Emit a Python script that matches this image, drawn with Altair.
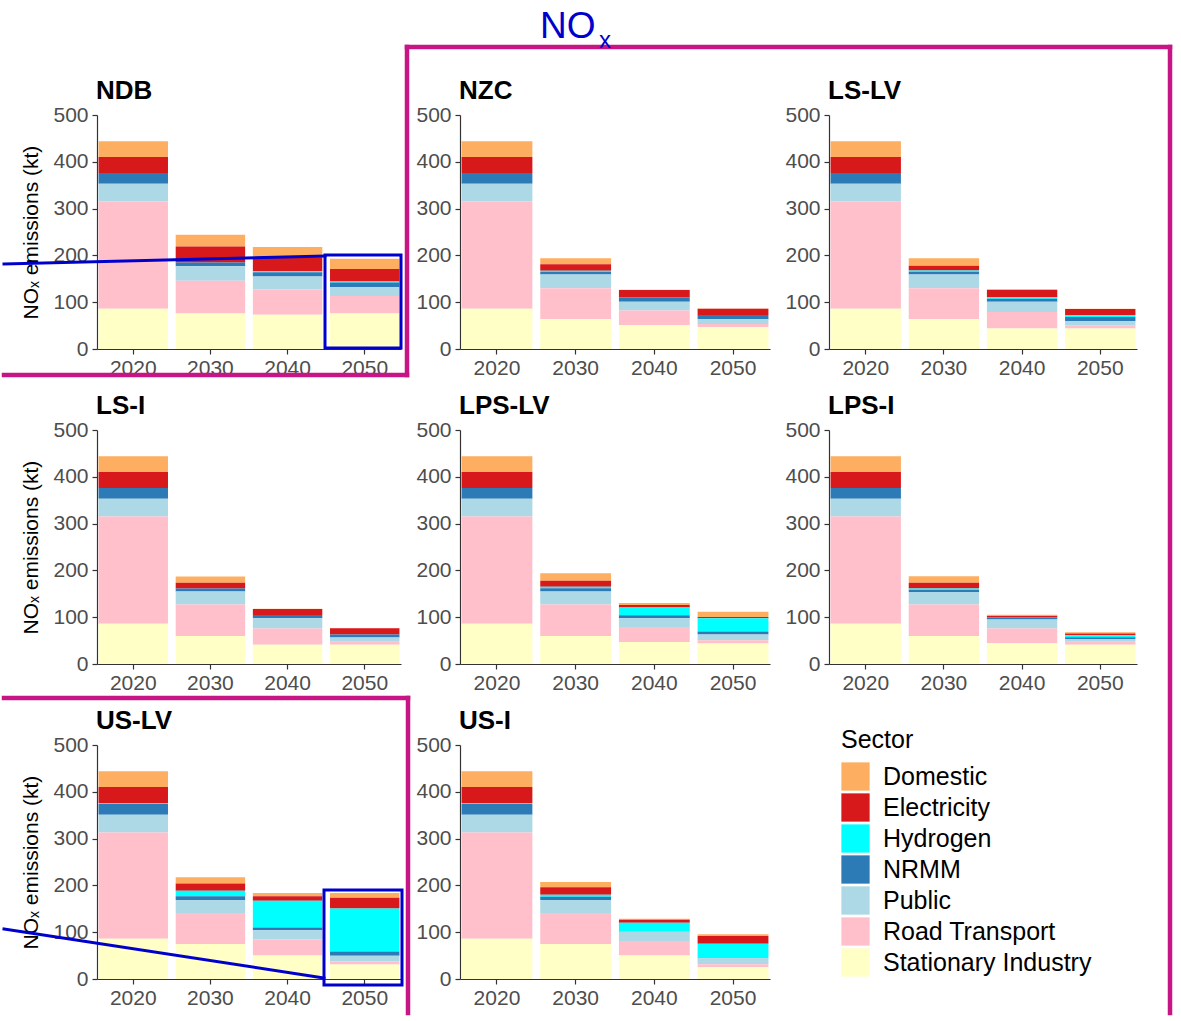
import altair as alt
import pandas as pd

# ---------------- data ----------------
years = ["2020", "2030", "2040", "2050"]
sectors = ["Domestic", "Electricity", "Hydrogen", "NRMM", "Public",
           "Road Transport", "Stationary Industry"]
sector_colors = ["#FDAE61", "#D7191C", "#00FFFF", "#2C7BB6", "#ADD8E6",
                 "#FFC0CB", "#FFFFC6"]
scenarios = ["NDB", "NZC", "LS-LV", "LS-I", "LPS-LV", "LPS-I", "US-LV", "US-I"]

# NOx emissions (kt) by sector, one list per sector in year order
NDB = {"Domestic": [34, 25, 22, 22], "Electricity": [34, 34, 30, 27],
       "Hydrogen": [0, 0, 2, 2], "NRMM": [23, 8, 9, 10],
       "Public": [38, 31, 28, 19], "Road Transport": [229, 70, 54, 37],
       "Stationary Industry": [86, 76, 73, 76]}
NZC = {"Domestic": [34, 13, 0.5, 0.5], "Electricity": [34, 14, 16, 13.5],
       "Hydrogen": [0, 2, 0, 0], "NRMM": [23, 6, 9, 9],
       "Public": [38, 29, 19, 10], "Road Transport": [229, 66, 31, 6.5],
       "Stationary Industry": [86, 64, 51, 47]}
LS_LV = {"Domestic": [34, 16, 0.5, 0.5], "Electricity": [34, 10, 16, 13.5],
         "Hydrogen": [0, 3, 3, 3.5], "NRMM": [23, 6, 6.5, 9],
         "Public": [38, 29, 22, 9], "Road Transport": [229, 66, 35, 6.5],
         "Stationary Industry": [86, 64, 44, 44]}
LS_I = {"Domestic": [34, 13.5, 0.5, 0.5], "Electricity": [34, 12, 13, 13.5],
        "Hydrogen": [0, 0, 0, 0], "NRMM": [23, 6.5, 6.5, 6.5],
        "Public": [38, 28, 22, 9], "Road Transport": [229, 67, 35, 6.5],
        "Stationary Industry": [86, 60, 41, 41]}
LPS_LV = {"Domestic": [34, 16, 4.5, 11], "Electricity": [34, 13, 5.5, 3],
          "Hydrogen": [0, 3, 16.5, 28], "NRMM": [23, 7, 6, 6.5],
          "Public": [38, 28, 19, 12], "Road Transport": [229, 67, 32, 7],
          "Stationary Industry": [86, 60, 47, 44]}
LPS_I = {"Domestic": [34, 14, 3, 3], "Electricity": [34, 12, 3.5, 3.5],
         "Hydrogen": [0, 3.5, 0.5, 4.5], "NRMM": [23, 4, 3.5, 3.5],
         "Public": [38, 27, 19, 6], "Road Transport": [229, 67, 31.5, 6.5],
         "Stationary Industry": [86, 60, 44.5, 41]}
US_LV = {"Domestic": [34, 13.5, 6.5, 10], "Electricity": [34, 15.5, 10, 23],
         "Hydrogen": [2, 11.5, 57, 92], "NRMM": [23, 8, 6, 9],
         "Public": [38, 28, 19, 12], "Road Transport": [227, 66, 35, 6.5],
         "Stationary Industry": [86, 75, 50, 31]}
US_I = {"Domestic": [34, 11.5, 2.5, 3.5], "Electricity": [34, 16, 6.5, 16.5],
        "Hydrogen": [2, 4.5, 18.5, 30.5], "NRMM": [23, 6.5, 0.5, 0.5],
        "Public": [38, 28, 20, 13], "Road Transport": [227, 66, 31, 6.5],
        "Stationary Industry": [86, 75, 50, 25]}
scenario_data = [NDB, NZC, LS_LV, LS_I, LPS_LV, LPS_I, US_LV, US_I]

rows = []
for sc, d in zip(scenarios, scenario_data):
    for s in sectors:
        for yr, v in zip(years, d[s]):
            rows.append({"Scenario": sc, "Year": yr, "Sector": s,
                         "Emissions": v, "Stack": 6 - sectors.index(s)})
df = pd.DataFrame(rows)

# ---------------- styling ----------------
FONT = "Liberation Sans"
col_widths = [304, 310, 308]
PH = 234
MAGENTA = "#C71585"
BLUE = "#0000CC"
ytitle = "NOₓ emissions (kt)"
dummy = pd.DataFrame({"k": [0]})

legend = alt.Legend(orient="none", legendX=744, legendY=613, title="Sector",
                    titleFont=FONT, titleFontSize=25, titleFontWeight="normal",
                    titleColor="black", titlePadding=9, labelFont=FONT,
                    labelFontSize=25, labelColor="black", labelLimit=400,
                    labelOffset=13, symbolType="square", symbolSize=800,
                    symbolStrokeWidth=0, symbolOpacity=1, rowPadding=2,
                    padding=0)


def seg(x1, y1, x2, y2, color, w):
    return alt.Chart(dummy).mark_rule(color=color, strokeWidth=w,
                                      strokeCap="square").encode(
        x=alt.value(x1), y=alt.value(y1), x2=alt.value(x2), y2=alt.value(y2))


def box(x1, y1, x2, y2, color, w):
    return alt.Chart(dummy).mark_rect(fillOpacity=0, stroke=color,
                                      strokeWidth=w).encode(
        x=alt.value(x1), y=alt.value(y1), x2=alt.value(x2), y2=alt.value(y2))


def label(txt, x, y, size, color, weight="normal"):
    return alt.Chart(dummy).mark_text(align="left", baseline="alphabetic",
                                      font=FONT, fontSize=size,
                                      fontWeight=weight, color=color).encode(
        x=alt.value(x), y=alt.value(y), text=alt.value(txt))


annotations = {
    "NDB": [
        seg(310, -68, 1073, -68, MAGENTA, 4.5),
        seg(1073, -68, 1073, 898, MAGENTA, 4.5),
        seg(310, -68, 310, 260, MAGENTA, 4.5),
        seg(-93, 260, 310, 260, MAGENTA, 4.5),
        seg(-93, 583, 311, 583, MAGENTA, 4.5),
        seg(311, 583, 311, 898, MAGENTA, 4.5),
        box(228, 140, 304, 233, BLUE, 3),
        seg(-93, 149, 228, 141, BLUE, 3),
        label("NO", 443, -77, 37, BLUE),
        label("x", 502, -67, 24, BLUE),
    ],
    "US-LV": [
        box(227, 145, 305, 240, BLUE, 3),
        seg(-93, 184, 227, 233, BLUE, 3),
    ],
}

panels = []
for i, sc in enumerate(scenarios):
    col = i % 3
    yaxis = alt.Axis(values=[0, 100, 200, 300, 400, 500], titlePadding=11)
    if col == 0:
        y = alt.Y("Emissions:Q", stack="zero", title=ytitle,
                  scale=alt.Scale(domain=[0, 500], nice=False), axis=yaxis)
    else:
        y = alt.Y("Emissions:Q", stack="zero", title=None,
                  scale=alt.Scale(domain=[0, 500], nice=False), axis=yaxis)
    bars = alt.Chart(df).transform_filter(
        alt.datum.Scenario == sc
    ).mark_bar().encode(
        x=alt.X("Year:N", sort=years, title=None,
                scale=alt.Scale(paddingInner=0.1, paddingOuter=0.02),
                axis=alt.Axis(labelAngle=0, labelPadding=3)),
        y=y,
        color=alt.Color("Sector:N",
                        scale=alt.Scale(domain=sectors, range=sector_colors),
                        legend=legend),
        order=alt.Order("Stack:Q", sort="ascending"),
    )
    title = label(sc, -1, -16, 26, "black", "bold")
    layers = [bars, title] + annotations.get(sc, [])
    panels.append(alt.layer(*layers).properties(width=col_widths[col],
                                                 height=PH))

chart = alt.concat(
    *panels, columns=3, align="each", bounds="flush",
    spacing={"row": 81, "column": 59}
).properties(
    padding={"left": 0, "top": 7, "right": 0, "bottom": 0}
).configure_view(
    stroke="transparent"
).configure_axis(
    labelFont=FONT, labelFontSize=21, labelColor="#4D4D4D",
    titleFont=FONT, titleFontSize=21, titleFontWeight="normal",
    titleColor="black", domainColor="#333333", tickColor="#333333",
    tickSize=5, labelPadding=4, grid=False, domainWidth=1.2, tickWidth=1.2
)

chart.save("out.html", embed_options={"renderer": "svg", "actions": False})
